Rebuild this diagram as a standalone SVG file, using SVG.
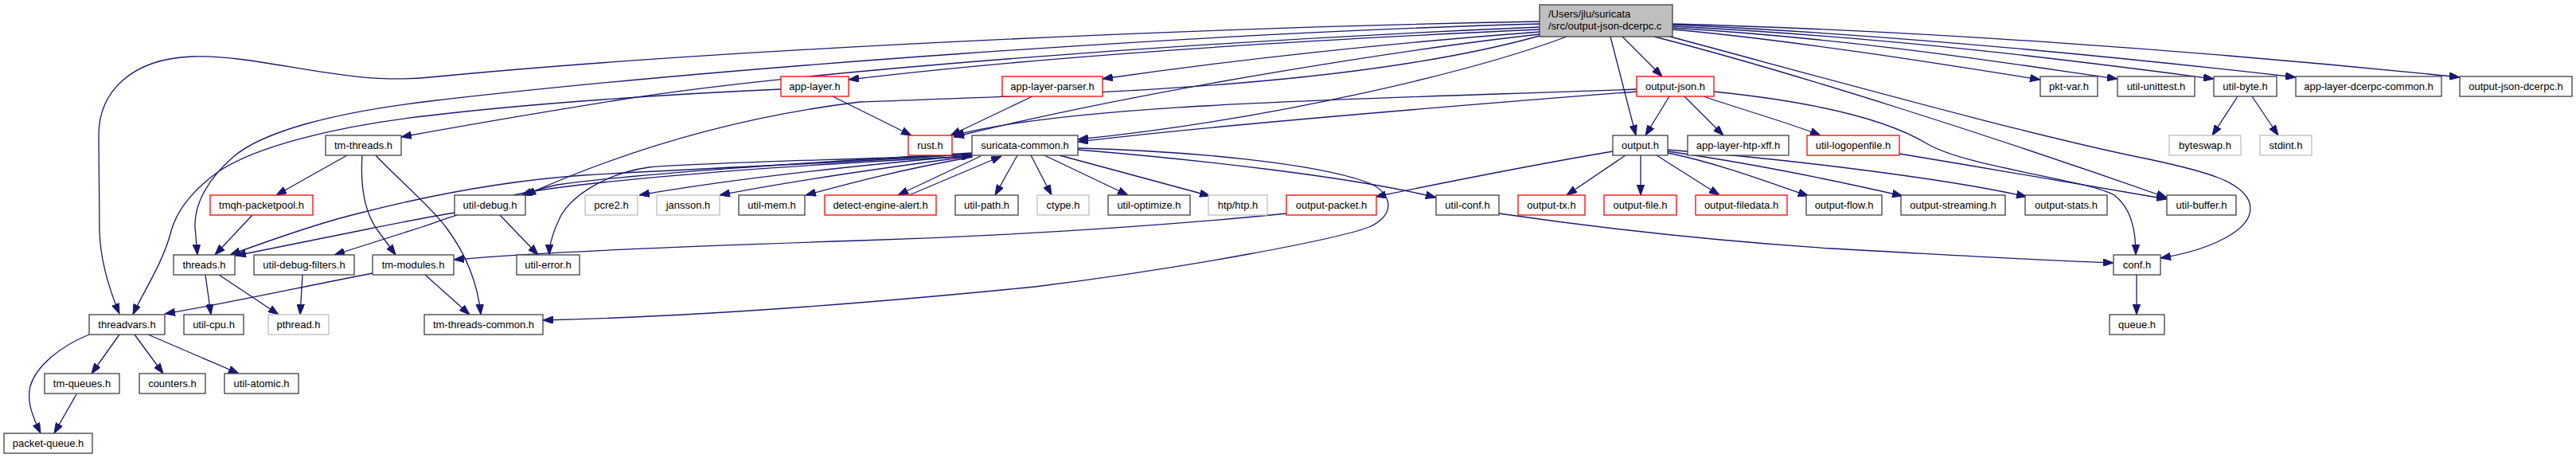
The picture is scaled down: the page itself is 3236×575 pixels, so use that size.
<svg xmlns="http://www.w3.org/2000/svg" width="3236" height="575" viewBox="0 0 3236 575">
<style>
.node rect{fill:#fff;stroke:#404040;stroke-width:1.3}
.node.red rect{stroke:#ff0000}
.node.ext rect{stroke:#bfbfbf}
.node.root rect{fill:#bfbfbf}
text{font-family:"Liberation Sans",Arial,sans-serif;font-size:13px;fill:#000;text-anchor:middle}
.node.root text{text-anchor:start}
.edges path{fill:none;stroke:#191970;stroke-width:1.3;marker-end:url(#ah)}
</style>
<defs>
<marker id="ah" viewBox="0 0 13 9.5" refX="13" refY="4.75" markerWidth="13" markerHeight="9.5" markerUnits="userSpaceOnUse" orient="auto">
<path d="M0,0 L13,4.75 L0,9.5 z" fill="#191970" stroke="#191970" stroke-width="1"/>
</marker>
</defs>
<rect width="3236" height="575" fill="#fff"/>
<g class="edges">
<path d="M1934,27 C1500,35 900,62 540,97 C430,108 330,68 241,71 C165,74 124,115 124,170 L125,290 C126,330 138,365 150,394"/>
<path d="M1934,30 C1500,42 900,85 540,127 C420,141 330,165 293,197 C262,224 244,255 245,285 L248,320"/>
<path d="M1934,34 C1500,52 1000,90 780,125 C680,141 580,158 504,172"/>
<path d="M1934,37 C1600,52 1300,72 1066,100"/>
<path d="M1934,40 C1800,50 1600,68 1385,99"/>
<path d="M1934,43 C1780,60 1450,110 1198,172"/>
<path d="M1968,46 C1850,90 1600,150 1354,175"/>
<path d="M1934,45 C1700,110 1350,118 1080,128 C900,150 760,200 660,245"/>
<path d="M2038,46 L2088,96"/>
<path d="M2023,46 L2055,170"/>
<path d="M2101,30 C2400,38 2750,62 3090,97"/>
<path d="M2101,31 C2400,44 2700,76 2884,97"/>
<path d="M2101,33 C2400,48 2650,82 2781,99"/>
<path d="M2101,35 C2350,50 2550,84 2660,99"/>
<path d="M2101,37 C2250,50 2450,82 2563,100"/>
<path d="M2078,46 C2250,90 2500,170 2722,248"/>
<path d="M2098,46 C2300,100 2550,170 2700,200 C2770,215 2818,228 2826,255 C2835,290 2770,315 2714,324"/>
<path d="M2097,121 L2067,170"/>
<path d="M2116,121 L2165,170"/>
<path d="M2140,121 C2180,135 2250,155 2287,170"/>
<path d="M2153,115 C2280,128 2370,150 2420,180 C2470,210 2620,225 2656,245 C2678,262 2683,290 2683,320"/>
<path d="M2386,193 C2500,212 2620,232 2722,250"/>
<path d="M2056,112 C1700,125 1350,130 1198,170"/>
<path d="M2056,115 C1800,135 1500,160 1354,178"/>
<path d="M2026,190 C1920,208 1820,228 1728,247"/>
<path d="M2042,195 L1968,245"/>
<path d="M2061,195 L2061,245"/>
<path d="M2081,195 L2160,245"/>
<path d="M2095,192 C2160,205 2230,232 2272,246"/>
<path d="M2095,190 C2200,205 2320,230 2390,246"/>
<path d="M2095,188 C2250,200 2450,225 2546,247"/>
<path d="M2811,121 L2779,170"/>
<path d="M2829,121 L2862,170"/>
<path d="M1046,121 L1145,170"/>
<path d="M981,112 C800,120 640,133 540,145 C420,158 320,185 275,215 C240,240 222,265 215,290 C205,330 178,370 167,395"/>
<path d="M1297,121 L1194,170"/>
<path d="M436,195 L347,245"/>
<path d="M455,195 C452,240 460,270 475,290 L497,320"/>
<path d="M472,195 C500,225 540,258 560,285 C585,318 600,355 604,395"/>
<path d="M317,270 L270,320"/>
<path d="M258,345 L265,395"/>
<path d="M275,345 L350,395"/>
<path d="M380,345 L377,395"/>
<path d="M468,343 C380,360 280,382 207,394"/>
<path d="M534,345 L590,395"/>
<path d="M574,270 C560,274 545,280 530,285 L420,320"/>
<path d="M571,267 C540,272 500,280 460,288 C400,300 340,312 296,321"/>
<path d="M1221,193 C1100,203 900,210 733,220 C620,228 520,250 450,268 C400,280 330,305 289,320"/>
<path d="M1221,192 C1000,205 800,218 700,232 C680,236 670,240 655,245"/>
<path d="M645,245 C700,232 900,212 1221,196"/>
<path d="M1221,194 C1100,200 900,203 815,210 C760,218 720,245 705,270 C695,290 690,305 690,320"/>
<path d="M628,270 L676,320"/>
<path d="M1221,195 C1050,210 900,228 803,245"/>
<path d="M1221,196 C1100,212 980,230 904,245"/>
<path d="M1222,197 C1130,213 1060,232 1012,245"/>
<path d="M1232,196 L1128,245"/>
<path d="M1142,245 L1258,196"/>
<path d="M1278,195 L1250,245"/>
<path d="M1295,195 L1321,245"/>
<path d="M1312,195 L1417,245"/>
<path d="M1331,195 L1520,246"/>
<path d="M1354,188 C1500,200 1700,222 1804,248"/>
<path d="M1354,186 C1500,190 1650,205 1715,228 C1750,240 1755,270 1720,285 C1680,300 1500,335 1300,360 C1050,385 850,398 682,402"/>
<path d="M1616,268 C1500,280 1300,295 1080,302 C900,308 700,315 570,326"/>
<path d="M1883,268 C2000,285 2150,302 2300,312 C2450,320 2560,327 2655,330"/>
<path d="M2684,345 L2684,395"/>
<path d="M150,420 L115,469"/>
<path d="M169,420 L205,469"/>
<path d="M186,420 L300,469"/>
<path d="M112,420 C75,435 45,460 38,485 C33,505 42,525 51,544"/>
<path d="M96,495 L68,544"/>
</g>
<g id="n-root" class="node root"><rect x="1934" y="6" width="167" height="40"/><text x="1945" y="21.5">/Users/jlu/suricata</text><text x="1945" y="36.5">/src/output-json-dcerpc.c</text></g>
<g id="n-app-layer" class="node red"><rect x="981" y="96" width="85" height="25"/><text x="1023.5" y="113">app-layer.h</text></g>
<g id="n-app-layer-parser" class="node red"><rect x="1259" y="96" width="126" height="25"/><text x="1322" y="113">app-layer-parser.h</text></g>
<g id="n-output-json" class="node red"><rect x="2056" y="96" width="97" height="25"/><text x="2104.5" y="113">output-json.h</text></g>
<g id="n-pkt-var" class="node"><rect x="2563" y="96" width="72" height="25"/><text x="2599" y="113">pkt-var.h</text></g>
<g id="n-util-unittest" class="node"><rect x="2660" y="96" width="97" height="25"/><text x="2708.5" y="113">util-unittest.h</text></g>
<g id="n-util-byte" class="node"><rect x="2781" y="96" width="79" height="25"/><text x="2820.5" y="113">util-byte.h</text></g>
<g id="n-app-layer-dcerpc-common" class="node"><rect x="2884" y="96" width="183" height="25"/><text x="2975.5" y="113">app-layer-dcerpc-common.h</text></g>
<g id="n-output-json-dcerpc" class="node"><rect x="3090" y="96" width="141" height="25"/><text x="3160.5" y="113">output-json-dcerpc.h</text></g>
<g id="n-tm-threads" class="node"><rect x="409" y="170" width="95" height="25"/><text x="456.5" y="187">tm-threads.h</text></g>
<g id="n-rust" class="node red"><rect x="1141" y="170" width="55" height="25"/><text x="1168.5" y="187">rust.h</text></g>
<g id="n-suricata-common" class="node"><rect x="1221" y="170" width="133" height="25"/><text x="1287.5" y="187">suricata-common.h</text></g>
<g id="n-output" class="node"><rect x="2026" y="170" width="69" height="25"/><text x="2060.5" y="187">output.h</text></g>
<g id="n-app-layer-htp-xff" class="node"><rect x="2120" y="170" width="127" height="25"/><text x="2183.5" y="187">app-layer-htp-xff.h</text></g>
<g id="n-util-logopenfile" class="node red"><rect x="2270" y="170" width="116" height="25"/><text x="2328" y="187">util-logopenfile.h</text></g>
<g id="n-byteswap" class="node ext"><rect x="2725" y="170" width="90" height="25"/><text x="2770" y="187">byteswap.h</text></g>
<g id="n-stdint" class="node ext"><rect x="2839" y="170" width="65" height="25"/><text x="2871.5" y="187">stdint.h</text></g>
<g id="n-tmqh-packetpool" class="node red"><rect x="264" y="245" width="129" height="25"/><text x="328.5" y="262">tmqh-packetpool.h</text></g>
<g id="n-util-debug" class="node"><rect x="571" y="245" width="89" height="25"/><text x="615.5" y="262">util-debug.h</text></g>
<g id="n-pcre2" class="node ext"><rect x="735" y="245" width="66" height="25"/><text x="768" y="262">pcre2.h</text></g>
<g id="n-jansson" class="node ext"><rect x="825" y="245" width="79" height="25"/><text x="864.5" y="262">jansson.h</text></g>
<g id="n-util-mem" class="node"><rect x="928" y="245" width="83" height="25"/><text x="969.5" y="262">util-mem.h</text></g>
<g id="n-detect-engine-alert" class="node red"><rect x="1036" y="245" width="140" height="25"/><text x="1106" y="262">detect-engine-alert.h</text></g>
<g id="n-util-path" class="node"><rect x="1200" y="245" width="79" height="25"/><text x="1239.5" y="262">util-path.h</text></g>
<g id="n-ctype" class="node ext"><rect x="1303" y="245" width="65" height="25"/><text x="1335.5" y="262">ctype.h</text></g>
<g id="n-util-optimize" class="node"><rect x="1392" y="245" width="103" height="25"/><text x="1443.5" y="262">util-optimize.h</text></g>
<g id="n-htp" class="node ext"><rect x="1518" y="245" width="74" height="25"/><text x="1555" y="262">htp/htp.h</text></g>
<g id="n-output-packet" class="node red"><rect x="1616" y="245" width="113" height="25"/><text x="1672.5" y="262">output-packet.h</text></g>
<g id="n-util-conf" class="node"><rect x="1804" y="245" width="79" height="25"/><text x="1843.5" y="262">util-conf.h</text></g>
<g id="n-output-tx" class="node red"><rect x="1907" y="245" width="84" height="25"/><text x="1949" y="262">output-tx.h</text></g>
<g id="n-output-file" class="node red"><rect x="2015" y="245" width="91" height="25"/><text x="2060.5" y="262">output-file.h</text></g>
<g id="n-output-filedata" class="node red"><rect x="2130" y="245" width="115" height="25"/><text x="2187.5" y="262">output-filedata.h</text></g>
<g id="n-output-flow" class="node"><rect x="2269" y="245" width="95" height="25"/><text x="2316.5" y="262">output-flow.h</text></g>
<g id="n-output-streaming" class="node"><rect x="2388" y="245" width="131" height="25"/><text x="2453.5" y="262">output-streaming.h</text></g>
<g id="n-output-stats" class="node"><rect x="2544" y="245" width="103" height="25"/><text x="2595.5" y="262">output-stats.h</text></g>
<g id="n-util-buffer" class="node"><rect x="2722" y="245" width="87" height="25"/><text x="2765.5" y="262">util-buffer.h</text></g>
<g id="n-threads" class="node"><rect x="218" y="320" width="77" height="25"/><text x="256.5" y="337">threads.h</text></g>
<g id="n-util-debug-filters" class="node"><rect x="319" y="320" width="126" height="25"/><text x="382" y="337">util-debug-filters.h</text></g>
<g id="n-tm-modules" class="node"><rect x="468" y="320" width="102" height="25"/><text x="519" y="337">tm-modules.h</text></g>
<g id="n-util-error" class="node"><rect x="649" y="320" width="79" height="25"/><text x="688.5" y="337">util-error.h</text></g>
<g id="n-conf" class="node"><rect x="2655" y="320" width="59" height="25"/><text x="2684.5" y="337">conf.h</text></g>
<g id="n-threadvars" class="node"><rect x="112" y="395" width="95" height="25"/><text x="159.5" y="412">threadvars.h</text></g>
<g id="n-util-cpu" class="node"><rect x="231" y="395" width="75" height="25"/><text x="268.5" y="412">util-cpu.h</text></g>
<g id="n-pthread" class="node ext"><rect x="337" y="395" width="76" height="25"/><text x="375" y="412">pthread.h</text></g>
<g id="n-tm-threads-common" class="node"><rect x="533" y="395" width="149" height="25"/><text x="607.5" y="412">tm-threads-common.h</text></g>
<g id="n-queue" class="node"><rect x="2650" y="395" width="69" height="25"/><text x="2684.5" y="412">queue.h</text></g>
<g id="n-tm-queues" class="node"><rect x="56" y="469" width="94" height="25"/><text x="103" y="486">tm-queues.h</text></g>
<g id="n-counters" class="node"><rect x="175" y="469" width="83" height="25"/><text x="216.5" y="486">counters.h</text></g>
<g id="n-util-atomic" class="node"><rect x="282" y="469" width="93" height="25"/><text x="328.5" y="486">util-atomic.h</text></g>
<g id="n-packet-queue" class="node"><rect x="5" y="544" width="111" height="25"/><text x="60.5" y="561">packet-queue.h</text></g>
</svg>
